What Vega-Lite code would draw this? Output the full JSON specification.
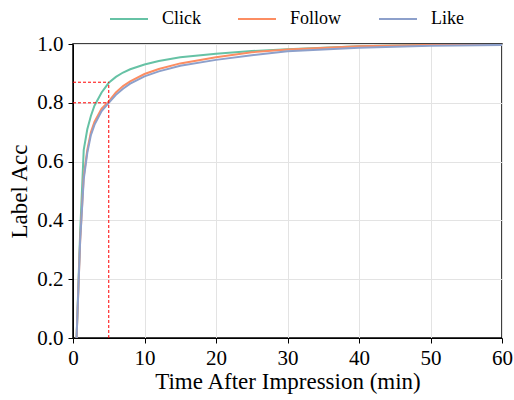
{
  "$schema": "https://vega.github.io/schema/vega-lite/v6.json",
  "autosize": "none",
  "width": 429,
  "height": 294,
  "padding": {"left": 73, "top": 44, "right": 12, "bottom": 62},
  "background": "white",
  "config": {
    "font": "Times New Roman",
    "view": {"stroke": "black", "strokeWidth": 1.5},
    "axis": {
      "labelFont": "Times New Roman",
      "titleFont": "Times New Roman",
      "labelFontSize": 21,
      "titleFontSize": 23,
      "titleFontWeight": "normal",
      "labelColor": "black",
      "titleColor": "black",
      "domainColor": "black",
      "tickColor": "black",
      "tickSize": 5,
      "labelPadding": 5,
      "labelFlush": false,
      "gridColor": "#e3e3e3",
      "gridWidth": 1
    },
    "legend": {
      "labelFont": "Times New Roman",
      "labelFontSize": 18,
      "labelColor": "black"
    }
  },
  "datasets": {
    "curves": [
      {"t": 0.5, "acc": 0.0, "type": "Click"},
      {"t": 1, "acc": 0.36, "type": "Click"},
      {"t": 1.5, "acc": 0.64, "type": "Click"},
      {"t": 2, "acc": 0.71, "type": "Click"},
      {"t": 2.5, "acc": 0.755, "type": "Click"},
      {"t": 3, "acc": 0.79, "type": "Click"},
      {"t": 4, "acc": 0.835, "type": "Click"},
      {"t": 5, "acc": 0.868, "type": "Click"},
      {"t": 6, "acc": 0.888, "type": "Click"},
      {"t": 7, "acc": 0.903, "type": "Click"},
      {"t": 8, "acc": 0.914, "type": "Click"},
      {"t": 10, "acc": 0.93, "type": "Click"},
      {"t": 12, "acc": 0.942, "type": "Click"},
      {"t": 15, "acc": 0.955, "type": "Click"},
      {"t": 20, "acc": 0.967, "type": "Click"},
      {"t": 25, "acc": 0.976, "type": "Click"},
      {"t": 30, "acc": 0.982, "type": "Click"},
      {"t": 40, "acc": 0.992, "type": "Click"},
      {"t": 50, "acc": 0.997, "type": "Click"},
      {"t": 60, "acc": 0.999, "type": "Click"},
      {"t": 0.5, "acc": 0.0, "type": "Follow"},
      {"t": 1, "acc": 0.33, "type": "Follow"},
      {"t": 1.5, "acc": 0.55, "type": "Follow"},
      {"t": 2, "acc": 0.64, "type": "Follow"},
      {"t": 2.5, "acc": 0.70, "type": "Follow"},
      {"t": 3, "acc": 0.735, "type": "Follow"},
      {"t": 4, "acc": 0.78, "type": "Follow"},
      {"t": 5, "acc": 0.805, "type": "Follow"},
      {"t": 6, "acc": 0.835, "type": "Follow"},
      {"t": 7, "acc": 0.857, "type": "Follow"},
      {"t": 8, "acc": 0.873, "type": "Follow"},
      {"t": 10, "acc": 0.898, "type": "Follow"},
      {"t": 12, "acc": 0.915, "type": "Follow"},
      {"t": 15, "acc": 0.934, "type": "Follow"},
      {"t": 20, "acc": 0.955, "type": "Follow"},
      {"t": 25, "acc": 0.972, "type": "Follow"},
      {"t": 30, "acc": 0.981, "type": "Follow"},
      {"t": 40, "acc": 0.992, "type": "Follow"},
      {"t": 50, "acc": 0.997, "type": "Follow"},
      {"t": 60, "acc": 0.999, "type": "Follow"},
      {"t": 0.5, "acc": 0.0, "type": "Like"},
      {"t": 1, "acc": 0.33, "type": "Like"},
      {"t": 1.5, "acc": 0.54, "type": "Like"},
      {"t": 2, "acc": 0.63, "type": "Like"},
      {"t": 2.5, "acc": 0.69, "type": "Like"},
      {"t": 3, "acc": 0.725, "type": "Like"},
      {"t": 4, "acc": 0.772, "type": "Like"},
      {"t": 5, "acc": 0.80, "type": "Like"},
      {"t": 6, "acc": 0.827, "type": "Like"},
      {"t": 7, "acc": 0.848, "type": "Like"},
      {"t": 8, "acc": 0.865, "type": "Like"},
      {"t": 10, "acc": 0.89, "type": "Like"},
      {"t": 12, "acc": 0.907, "type": "Like"},
      {"t": 15, "acc": 0.926, "type": "Like"},
      {"t": 20, "acc": 0.946, "type": "Like"},
      {"t": 25, "acc": 0.962, "type": "Like"},
      {"t": 30, "acc": 0.975, "type": "Like"},
      {"t": 40, "acc": 0.987, "type": "Like"},
      {"t": 50, "acc": 0.994, "type": "Like"},
      {"t": 60, "acc": 0.997, "type": "Like"}
    ]
  },
  "layer": [
    {
      "data": {"name": "curves"},
      "mark": {"type": "line", "strokeWidth": 2, "clip": true},
      "encoding": {
        "x": {
          "field": "t", "type": "quantitative",
          "scale": {"domain": [0, 60], "nice": false},
          "axis": {"values": [0, 10, 20, 30, 40, 50, 60], "title": "Time After Impression (min)", "titlePadding": 2, "labelPadding": 4, "labelFlush": false}
        },
        "y": {
          "field": "acc", "type": "quantitative",
          "scale": {"domain": [0, 1], "nice": false},
          "axis": {"values": [0, 0.2, 0.4, 0.6, 0.8, 1.0], "format": ".1f", "title": "Label Acc", "titlePadding": 5, "labelFlush": false}
        },
        "color": {
          "field": "type", "type": "nominal",
          "scale": {"domain": ["Click", "Follow", "Like"], "range": ["#66c2a5", "#fc8d62", "#8da0cb"]},
          "legend": {
            "title": null,
            "orient": "none",
            "direction": "horizontal",
            "legendX": 36,
            "legendY": -45,
            "symbolType": "stroke",
            "symbolSize": 1444,
            "symbolStrokeWidth": 2,
            "labelOffset": 13,
            "columnPadding": 33
          }
        },
        "order": {"field": "t", "type": "quantitative"}
      }
    },
    {
      "data": {"values": [{"x": 5, "y": 0, "y2": 0.87}]},
      "mark": {"type": "rule", "color": "#ff0000", "strokeWidth": 1, "strokeDash": [3, 2]},
      "encoding": {
        "x": {"field": "x", "type": "quantitative"},
        "y": {"field": "y", "type": "quantitative"},
        "y2": {"field": "y2"}
      }
    },
    {
      "data": {"values": [{"x": 0, "x2": 5, "y": 0.87}, {"x": 0, "x2": 5, "y": 0.8}]},
      "mark": {"type": "rule", "color": "#ff0000", "strokeWidth": 1, "strokeDash": [3, 2]},
      "encoding": {
        "x": {"field": "x", "type": "quantitative"},
        "x2": {"field": "x2"},
        "y": {"field": "y", "type": "quantitative"}
      }
    }
  ]
}
